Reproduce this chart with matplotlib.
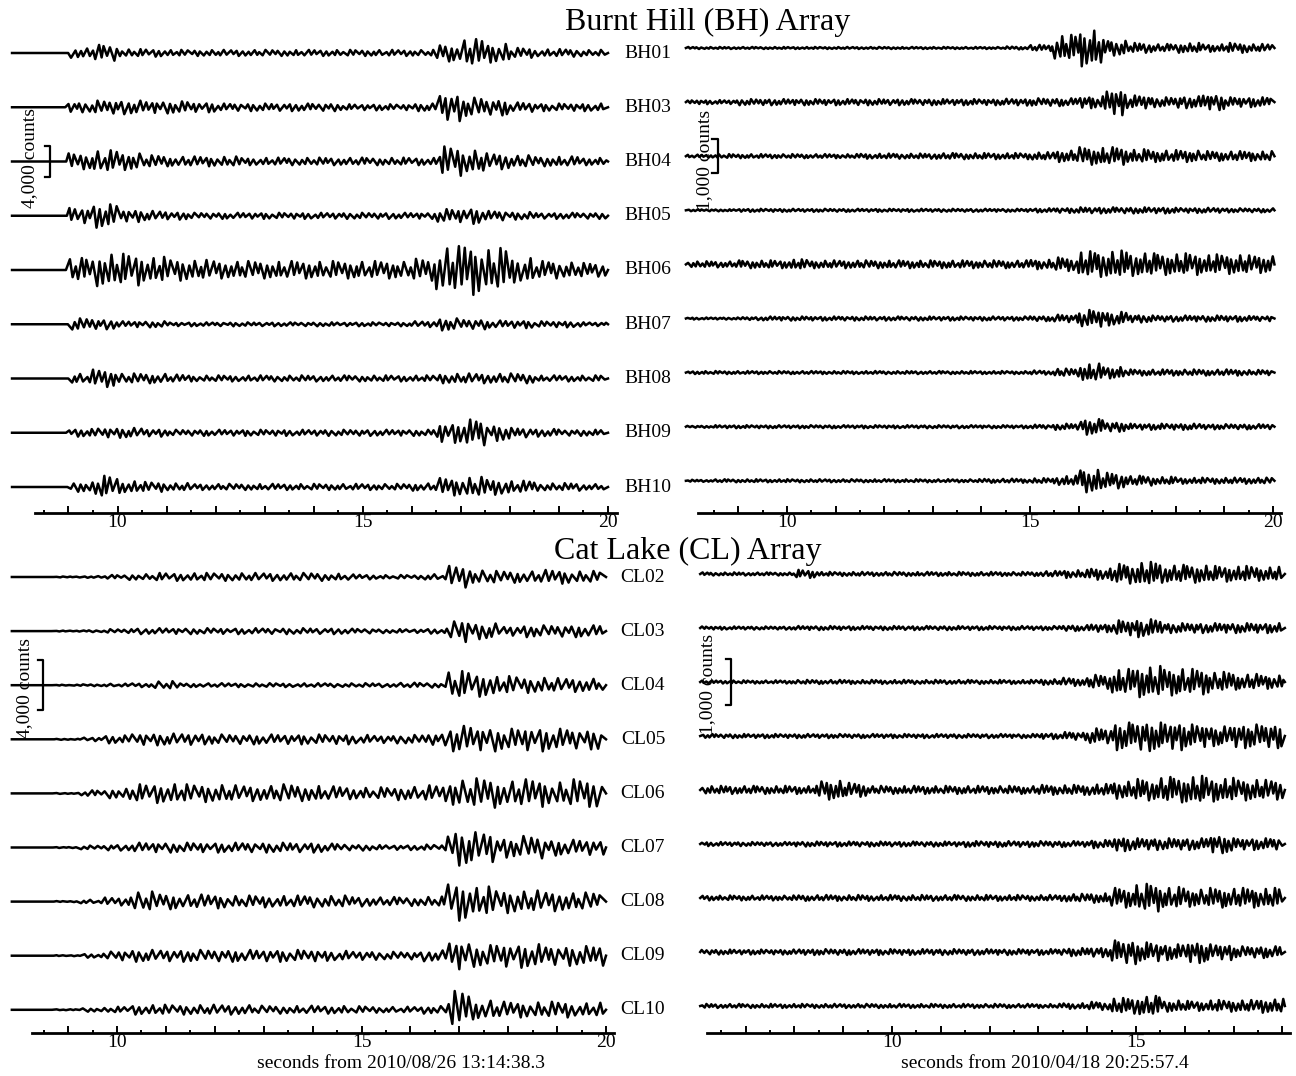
import numpy as np
import matplotlib
matplotlib.use("Agg")
import matplotlib.pyplot as plt
from matplotlib.ticker import FixedLocator, FuncFormatter

plt.rcParams['font.family'] = ['Liberation Serif', 'DejaVu Serif']

# station names
bh_names = ['BH01', 'BH03', 'BH04', 'BH05', 'BH06', 'BH07', 'BH08', 'BH09', 'BH10']
cl_names = ['CL02', 'CL03', 'CL04', 'CL05', 'CL06', 'CL07', 'CL08', 'CL09', 'CL10']

# envelope (peak counts) in 0.5 s bins
# Burnt Hill, event 1 : bins start at 7.5 s
bh_ev1_env = [
    [0, 0, 0, 650, 1050, 500, 500, 400, 400, 400, 400, 400, 400, 400, 400, 400, 400, 400, 1150, 1800, 1300, 650, 500, 500, 400],
    [0, 0, 0, 650, 900, 900, 800, 800, 650, 500, 500, 500, 500, 500, 400, 400, 400, 500, 1800, 1300, 1050, 650, 500, 500, 500],
    [0, 0, 0, 1050, 1450, 1150, 800, 650, 650, 650, 500, 500, 500, 500, 500, 500, 500, 500, 1950, 1550, 1050, 800, 650, 650, 500],
    [0, 0, 0, 1050, 1550, 800, 650, 500, 400, 400, 400, 400, 400, 400, 400, 400, 400, 400, 900, 1050, 650, 500, 400, 400, 400],
    [0, 0, 0, 1550, 2200, 2100, 1700, 1450, 1300, 1150, 1150, 1150, 1150, 1150, 1150, 1150, 1150, 1450, 3100, 3400, 2850, 1700, 1150, 1050, 900],
    [0, 0, 0, 800, 650, 400, 400, 260, 260, 260, 260, 260, 260, 260, 260, 260, 260, 400, 800, 650, 500, 500, 400, 400, 260],
    [0, 0, 0, 650, 1150, 650, 650, 500, 400, 400, 400, 400, 400, 400, 400, 400, 400, 400, 650, 650, 650, 650, 400, 400, 400],
    [0, 0, 0, 500, 650, 650, 500, 400, 400, 400, 400, 400, 400, 400, 400, 400, 400, 400, 1300, 1800, 1050, 650, 500, 400, 400],
    [0, 0, 0, 650, 1450, 800, 650, 500, 400, 400, 400, 400, 400, 400, 400, 400, 400, 500, 1150, 1300, 1050, 800, 500, 500, 400],
]
# Burnt Hill, event 2 : bins start at 7.5 s
bh_ev2_env = [
    [30, 30, 30, 30, 30, 30, 30, 30, 30, 30, 30, 30, 30, 30, 45, 90, 380, 560, 230, 145, 115, 145, 115, 145, 115],
    [45, 60, 60, 90, 90, 90, 90, 90, 90, 90, 90, 90, 90, 90, 100, 115, 115, 175, 380, 200, 145, 175, 230, 145, 145],
    [45, 45, 60, 60, 60, 60, 60, 60, 75, 75, 75, 90, 90, 90, 90, 115, 175, 260, 260, 200, 175, 175, 145, 145, 145],
    [30, 30, 30, 45, 45, 45, 45, 45, 45, 45, 45, 45, 45, 45, 45, 60, 75, 90, 90, 90, 90, 75, 75, 60, 60],
    [90, 90, 90, 115, 115, 145, 115, 115, 115, 115, 115, 115, 115, 115, 115, 145, 200, 380, 400, 350, 320, 320, 290, 290, 260],
    [30, 30, 30, 45, 60, 60, 60, 60, 60, 60, 60, 60, 60, 60, 60, 75, 115, 260, 200, 115, 90, 90, 90, 90, 75],
    [30, 45, 45, 45, 45, 45, 45, 45, 45, 45, 45, 45, 45, 45, 45, 60, 115, 260, 175, 90, 90, 90, 90, 90, 75],
    [30, 30, 45, 45, 45, 45, 45, 45, 45, 45, 45, 45, 45, 45, 45, 60, 90, 230, 145, 90, 90, 90, 75, 75, 75],
    [30, 30, 45, 45, 45, 45, 45, 45, 45, 45, 45, 45, 45, 60, 60, 75, 145, 350, 230, 145, 115, 90, 90, 90, 90],
]
# Cat Lake, event 1 : bins start at 7.75 s
cl_ev1_env = [
    [0, 0, 40, 80, 160, 240, 320, 320, 320, 320, 320, 320, 320, 280, 200, 160, 160, 240, 880, 560, 480, 480, 560, 480, 400],
    [0, 0, 40, 80, 160, 240, 240, 240, 240, 240, 240, 240, 240, 240, 200, 160, 160, 200, 960, 640, 400, 480, 480, 480, 480],
    [0, 0, 40, 80, 120, 160, 320, 160, 160, 160, 160, 160, 160, 160, 160, 160, 200, 200, 1120, 960, 720, 640, 560, 560, 480],
    [0, 0, 40, 160, 320, 480, 480, 480, 400, 400, 400, 400, 400, 400, 360, 320, 360, 480, 1120, 960, 880, 960, 880, 800, 880],
    [0, 0, 40, 240, 400, 720, 800, 720, 720, 640, 640, 720, 640, 560, 480, 480, 560, 640, 1120, 1200, 1040, 1120, 960, 1120, 1280],
    [0, 0, 40, 160, 240, 400, 400, 400, 400, 400, 400, 400, 400, 320, 240, 200, 200, 240, 1440, 1280, 800, 960, 640, 640, 560],
    [0, 0, 40, 160, 320, 800, 640, 560, 560, 480, 480, 480, 480, 480, 400, 360, 360, 400, 1600, 1200, 960, 880, 800, 720, 720],
    [0, 0, 40, 160, 400, 480, 480, 480, 480, 480, 480, 480, 480, 400, 360, 320, 320, 440, 1200, 880, 960, 960, 800, 800, 880],
    [0, 0, 40, 160, 240, 400, 400, 400, 400, 400, 320, 320, 320, 320, 280, 240, 240, 320, 1500, 800, 640, 640, 640, 560, 560],
]
# Cat Lake, event 2 : bins start at 6.0 s
cl_ev2_env = [
    [35, 35, 35, 35, 90, 45, 45, 45, 45, 45, 45, 45, 45, 45, 65, 90, 130, 220, 265, 200, 200, 175, 175, 155],
    [35, 35, 35, 35, 45, 45, 45, 45, 45, 45, 45, 45, 45, 45, 45, 65, 90, 175, 200, 110, 110, 110, 110, 110],
    [35, 35, 35, 35, 45, 45, 45, 45, 45, 45, 45, 45, 45, 45, 65, 90, 155, 285, 350, 310, 285, 220, 175, 155],
    [45, 45, 45, 45, 45, 45, 45, 45, 45, 45, 45, 45, 45, 45, 65, 90, 175, 310, 330, 310, 265, 220, 265, 265],
    [90, 90, 90, 90, 90, 220, 155, 90, 90, 90, 90, 90, 90, 90, 110, 110, 130, 200, 240, 285, 310, 265, 240, 220],
    [45, 45, 45, 45, 55, 55, 55, 55, 55, 55, 55, 65, 65, 65, 65, 65, 90, 155, 130, 130, 130, 200, 130, 130],
    [55, 55, 55, 55, 65, 65, 65, 65, 65, 65, 65, 65, 65, 65, 65, 90, 110, 220, 310, 240, 200, 220, 220, 220],
    [55, 55, 55, 55, 65, 65, 65, 65, 65, 65, 65, 65, 65, 65, 65, 90, 110, 265, 220, 175, 240, 175, 130, 130],
    [45, 45, 45, 45, 45, 45, 45, 45, 45, 45, 45, 45, 45, 45, 45, 65, 90, 175, 220, 130, 110, 130, 130, 155],
]

# irregular peak heights and peak spacings of the wiggles
wobble = [1.0, 0.55, 0.85, 0.35, 0.7, 0.95, 0.5, 0.8, 0.4, 0.65, 0.9, 0.6, 0.3, 0.75]
spacing = [1.0, 0.7, 1.2, 0.8, 0.6, 1.1, 0.9, 1.4, 0.75, 1.0, 0.65, 1.25, 0.85]

W, H = 1296, 1076
fig = plt.figure(figsize=(W / 100, H / 100), dpi=100)


def wiggle(env, bin0, t_start, t_end, half, shift):
    steps = np.resize(np.roll(spacing, shift), int(2.5 * (t_end - t_start) / half)) * half
    tk = t_start + np.cumsum(steps)
    tk = tk[tk < t_end - half * 0.5]
    k = np.arange(len(tk))
    idx = np.clip(((tk - bin0) / 0.5).astype(int), 0, len(env) - 1)
    amp = np.asarray(env, float)[idx] * np.array(wobble)[(k + shift) % len(wobble)]
    amp = amp * np.where(k % 2 == 0, 1, -1)
    return np.r_[t_start, tk, t_end], np.r_[0, amp, 0]


def panel(box, x10, pps, y0, dy, envs, bin0, t_rng, half, gain, ax_rng, bar,
          names=None, label_px=None):
    left, right, top, bottom = box
    ax = fig.add_axes([left / W, 1 - bottom / H, (right - left) / W, (bottom - top) / H])
    ax.patch.set_visible(False)
    px2t = lambda p: 10 + (p - x10) / pps
    ax.set_xlim(px2t(left), px2t(right))
    ax.set_ylim(-(bottom - y0) / dy, (y0 - top) / dy)

    for i, e in enumerate(envs):
        x, y = wiggle(e, bin0, t_rng[0], t_rng[1], half, 5 * i)
        ax.plot(x, y / gain - i, color='k', lw=1.8, clip_on=False)
        if names is not None:
            ax.text(px2t(label_px), -i, names[i], ha='center', va='center', fontsize=14)

    # scale bar on third trace
    counts, bar_x, cap_x, txt_x, txt_dy = bar
    h = counts / gain / 2
    xb, xc = px2t(bar_x), px2t(cap_x)
    ax.plot([xc, xb, xb, xc], [-2 + h, -2 + h, -2 - h, -2 - h], color='k', lw=1.6,
            clip_on=False)
    ax.text(px2t(txt_x), -2 + txt_dy / dy, f'{counts:,} counts', rotation=90,
            ha='center', va='center', fontsize=14)

    for s in ['top', 'left', 'right']:
        ax.spines[s].set_visible(False)
    ax.spines['bottom'].set_linewidth(2)
    ax.spines['bottom'].set_bounds(ax_rng[0], ax_rng[1])
    ax.set_yticks([])
    lo, hi = ax_rng
    ax.xaxis.set_major_locator(FixedLocator(np.arange(np.ceil(lo), np.floor(hi) + 0.1)))
    ax.xaxis.set_minor_locator(FixedLocator(np.arange(np.ceil(lo), np.floor(hi) + 0.1) - 0.5))
    ax.xaxis.set_major_formatter(FuncFormatter(lambda v, p: f'{v:.0f}' if v % 5 == 0 else ''))
    ax.tick_params(axis='x', which='major', direction='in', length=5, width=1.4,
                   pad=1, labelsize=14)
    ax.tick_params(axis='x', which='minor', direction='in', length=2.5, width=1.4)
    return ax


panel((0, 640, 25, 513), 117.5, 49.05, 53, 54.25, bh_ev1_env, 7.5, (7.85, 20.0), 0.065,
      7050, (8.32, 20.18), (4000, 50, 45, 30, 3), bh_names, 648)
panel((660, 1296, 20, 513), 787, 48.6, 48, 54.1, bh_ev2_env, 7.5, (7.92, 20.03), 0.05,
      1573, (8.17, 20.16), (1000, 718, 712, 705, -4))
panel((0, 640, 560, 1033), 117, 48.9, 577, 54.1, cl_ev1_env, 7.75, (7.85, 20.0), 0.075,
      4320, (8.26, 20.16), (4000, 43, 38, 25, -3), cl_names, 643)
panel((680, 1296, 560, 1033), 892, 48.8, 574, 54.0, cl_ev2_env, 6.0, (6.07, 18.05), 0.05,
      1188, (6.21, 18.16), (1000, 731, 726, 708, -2))

fig.text(708 / W, 1 - 22 / H, 'Burnt Hill (BH) Array', ha='center', va='center', fontsize=23)
fig.text(688 / W, 1 - 551 / H, 'Cat Lake (CL) Array', ha='center', va='center', fontsize=23)
fig.text(401 / W, 1 - 1064 / H, 'seconds from 2010/08/26 13:14:38.3', ha='center',
         va='center', fontsize=14)
fig.text(1045 / W, 1 - 1064 / H, 'seconds from 2010/04/18 20:25:57.4', ha='center',
         va='center', fontsize=14)

fig.savefig('out.png', dpi=100)
